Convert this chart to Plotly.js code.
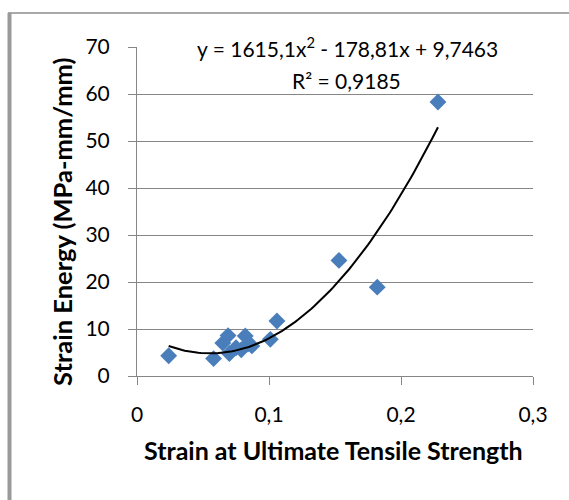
<!DOCTYPE html>
<html>
<head>
<meta charset="utf-8">
<script src="https://cdn.plot.ly/plotly-3.0.1.min.js"></script>
<style>html,body{margin:0;padding:0;background:#fff;}#chart{width:569px;height:500px;}</style>
</head>
<body>
<div id="chart"></div>
<script>
// Data
var strainUTS = [0.024, 0.058, 0.065, 0.069, 0.070, 0.075, 0.079, 0.082, 0.084, 0.087, 0.101, 0.106, 0.153, 0.182, 0.228];
var strainEnergy = [4.3, 3.7, 7.0, 8.6, 4.8, 6.0, 5.6, 8.5, 6.8, 6.4, 7.8, 11.7, 24.6, 18.9, 58.3];
// Trendline coefficients shown on the chart (y = a x^2 + b x + c)
var trendCoef = [1615.1, -178.81, 9.7463];
var eqText = "y = 1615,1x<sup>2</sup> - 178,81x + 9,7463";
var r2Text = "R² = 0,9185";
var xTickVals = [0, 0.1, 0.2, 0.3];
var xTickText = ["0", "0,1", "0,2", "0,3"];
var yTickVals = [0, 10, 20, 30, 40, 50, 60, 70];
var xTitle = "Strain at Ultimate Tensile Strength";
var yTitle = "Strain Energy (MPa-mm/mm)";

var xmin = Math.min.apply(null, strainUTS), xmax = Math.max.apply(null, strainUTS);
var tx = [], ty = [];
for (var i = 0; i <= 100; i++) {
  var x = xmin + (xmax - xmin) * i / 100;
  tx.push(x);
  ty.push(trendCoef[0] * x * x + trendCoef[1] * x + trendCoef[2]);
}

var font = "Lato, 'Open Sans', sans-serif";
var traces = [
  {x: strainUTS, y: strainEnergy, type: 'scatter', mode: 'markers',
   marker: {symbol: 'diamond', size: 13, color: '#4a7ebb'}, hoverinfo: 'none'},
  {x: tx, y: ty, type: 'scatter', mode: 'lines', line: {color: '#000', width: 2}, hoverinfo: 'none'}
];

function px(v){ return (v - 137) / 396; }
function py(v){ return (376 - v) / 329; }

var layout = {
  width: 569, height: 500,
  margin: {l: 137, r: 36, t: 47, b: 124},
  paper_bgcolor: '#fff', plot_bgcolor: '#fff',
  showlegend: false,
  font: {family: font, color: '#000', size: 21},
  xaxis: {
    range: [0, 0.3], tickvals: xTickVals, ticktext: xTickText,
    showgrid: false, zeroline: false, showline: true, linecolor: '#868686', linewidth: 1,
    ticks: 'outside', ticklen: 8, tickcolor: '#868686', ticklabelstandoff: 12,
    tickfont: {size: 21, family: font}
  },
  yaxis: {
    range: [0, 70], tickvals: yTickVals,
    showgrid: true, gridcolor: '#868686', gridwidth: 1, zeroline: false,
    showline: true, linecolor: '#868686', linewidth: 1,
    ticks: 'outside', ticklen: 8, tickcolor: '#868686', ticklabelstandoff: 14,
    tickfont: {size: 21, family: font}
  },
  annotations: [
    {xref: 'paper', yref: 'paper', x: px(347), y: py(47), text: eqText, showarrow: false,
     font: {size: 21, family: font}, xanchor: 'center', yanchor: 'middle'},
    {xref: 'paper', yref: 'paper', x: px(346), y: py(80), text: r2Text, showarrow: false,
     font: {size: 21, family: font}, xanchor: 'center', yanchor: 'middle'},
    {xref: 'paper', yref: 'paper', x: px(333), y: py(450), text: '<b>' + xTitle + '</b>', showarrow: false,
     font: {size: 25, family: font}, xanchor: 'center', yanchor: 'middle'},
    {xref: 'paper', yref: 'paper', x: px(62), y: py(222), text: '<b>' + yTitle + '</b>', showarrow: false,
     textangle: -90, font: {size: 25.5, family: font}, xanchor: 'center', yanchor: 'middle'}
  ],
  shapes: [
    {type: 'line', xref: 'paper', yref: 'paper', x0: px(8), x1: px(569), y0: py(13), y1: py(13),
     line: {color: '#8c8c8c', width: 1.5}},
    {type: 'line', xref: 'paper', yref: 'paper', x0: px(9.5), x1: px(9.5), y0: py(13), y1: py(500),
     line: {color: '#9a9a9a', width: 4}}
  ]
};
Plotly.newPlot('chart', traces, layout, {staticPlot: true, displayModeBar: false});
</script>
</body>
</html>
